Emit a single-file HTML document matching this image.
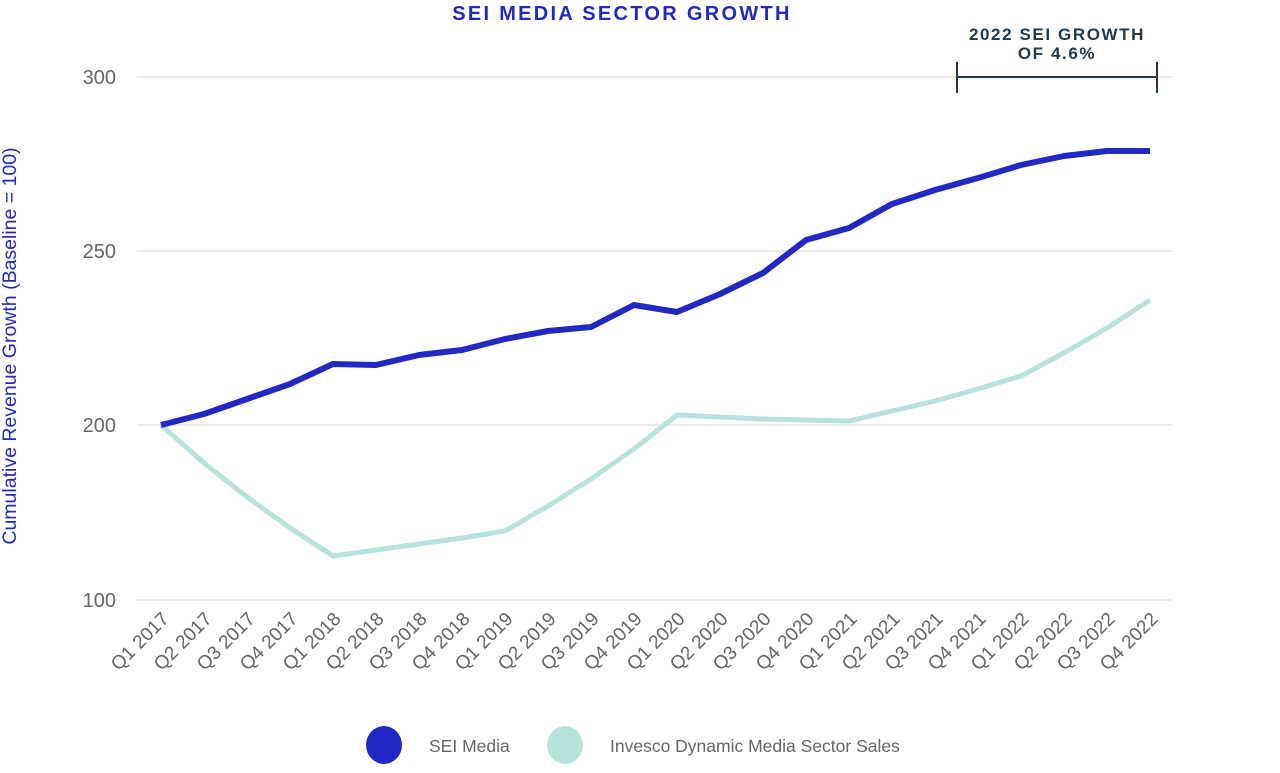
<!DOCTYPE html>
<html><head><meta charset="utf-8"><style>
body{margin:0;background:#fff;}
svg text{font-family:"Liberation Sans",sans-serif;}
</style></head><body>
<svg width="1280" height="768" viewBox="0 0 1280 768" xmlns="http://www.w3.org/2000/svg">
<text x="622" y="20" text-anchor="middle" font-size="20" font-weight="bold" letter-spacing="2.3" fill="#2228c4">SEI MEDIA SECTOR GROWTH</text>
<g stroke="#e3e3e3" stroke-width="1.5">
<line x1="137" y1="77" x2="1172" y2="77"/>
<line x1="137" y1="251" x2="1172" y2="251"/>
<line x1="137" y1="425" x2="1172" y2="425"/>
<line x1="137" y1="600" x2="1172" y2="600"/>
</g>
<g font-size="20" fill="#666" text-anchor="end">
<text x="116" y="84">300</text>
<text x="116" y="258">250</text>
<text x="116" y="432">200</text>
<text x="116" y="607">100</text>
</g>
<text transform="translate(16,346) rotate(-90)" text-anchor="middle" font-size="19.5" fill="#2228c4">Cumulative Revenue Growth (Baseline = 100)</text>
<g stroke="#1f3a4f" stroke-width="2" fill="none">
<line x1="957" y1="77" x2="1157" y2="77"/>
<line x1="957" y1="62" x2="957" y2="93"/>
<line x1="1157" y1="62" x2="1157" y2="93"/>
</g>
<text x="1057" y="40" text-anchor="middle" font-size="17" font-weight="bold" letter-spacing="1.6" fill="#1f3a4f">2022 SEI GROWTH</text>
<text x="1057" y="59" text-anchor="middle" font-size="17" font-weight="bold" letter-spacing="1.6" fill="#1f3a4f">OF 4.6%</text>
<polyline fill="none" stroke="#b8e3dc" stroke-width="5" stroke-linejoin="round" points="161,425 204,463 247,497 290,528 333,556 376,550 419,544 462,538 505,531 548,506 591,479 634,449 677,415 720,417 763,419 806,420 849,421 892,411 935,401 978,389 1021,376 1064,353 1107,328 1150,300"/>
<polyline fill="none" stroke="#2228c4" stroke-width="6" stroke-linejoin="round" points="161,425 204,414 247,399 290,384 333,364 376,365 419,355 462,350 505,339 548,331 591,327 634,305 677,312 720,294 763,273 806,240 849,228 892,204 935,190 978,178 1021,165 1064,156 1107,151 1150,151"/>
<g font-size="19" fill="#666" text-anchor="end">
<text transform="translate(170,620) rotate(-45)">Q1 2017</text>
<text transform="translate(213,620) rotate(-45)">Q2 2017</text>
<text transform="translate(256,620) rotate(-45)">Q3 2017</text>
<text transform="translate(299,620) rotate(-45)">Q4 2017</text>
<text transform="translate(342,620) rotate(-45)">Q1 2018</text>
<text transform="translate(385,620) rotate(-45)">Q2 2018</text>
<text transform="translate(428,620) rotate(-45)">Q3 2018</text>
<text transform="translate(471,620) rotate(-45)">Q4 2018</text>
<text transform="translate(514,620) rotate(-45)">Q1 2019</text>
<text transform="translate(557,620) rotate(-45)">Q2 2019</text>
<text transform="translate(600,620) rotate(-45)">Q3 2019</text>
<text transform="translate(643,620) rotate(-45)">Q4 2019</text>
<text transform="translate(686,620) rotate(-45)">Q1 2020</text>
<text transform="translate(729,620) rotate(-45)">Q2 2020</text>
<text transform="translate(772,620) rotate(-45)">Q3 2020</text>
<text transform="translate(815,620) rotate(-45)">Q4 2020</text>
<text transform="translate(858,620) rotate(-45)">Q1 2021</text>
<text transform="translate(901,620) rotate(-45)">Q2 2021</text>
<text transform="translate(944,620) rotate(-45)">Q3 2021</text>
<text transform="translate(987,620) rotate(-45)">Q4 2021</text>
<text transform="translate(1030,620) rotate(-45)">Q1 2022</text>
<text transform="translate(1073,620) rotate(-45)">Q2 2022</text>
<text transform="translate(1116,620) rotate(-45)">Q3 2022</text>
<text transform="translate(1159,620) rotate(-45)">Q4 2022</text>
</g>
<ellipse cx="384" cy="745" rx="18" ry="19" fill="#2228c4"/>
<text x="429" y="752" font-size="17.5" fill="#666">SEI Media</text>
<ellipse cx="565" cy="745" rx="18" ry="19" fill="#b8e3dc"/>
<text x="610" y="752" font-size="17.5" fill="#666">Invesco Dynamic Media Sector Sales</text>
</svg>
</body></html>
